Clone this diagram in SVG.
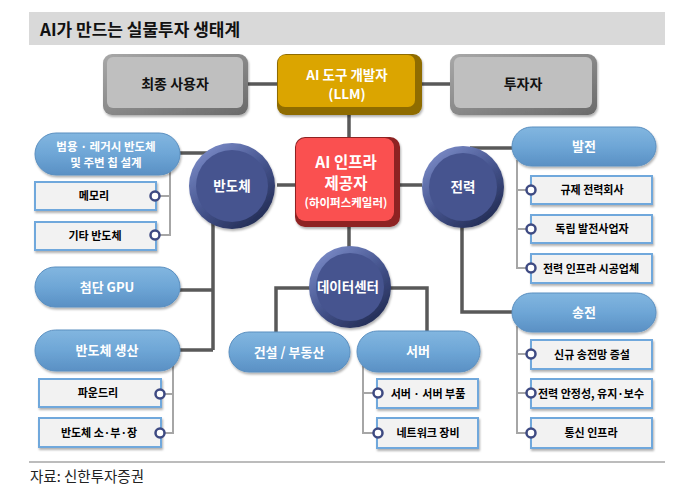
<svg xmlns="http://www.w3.org/2000/svg" width="700" height="491" viewBox="0 0 700 491">
<style>
text{font-family:"Noto Sans CJK KR","Noto Sans",sans-serif;text-anchor:middle}
.conn{fill:none;stroke:#595959;stroke-width:3.5}
.br{fill:none;stroke:#a6a6a6;stroke-width:2}
.pill{fill:url(#pillG);stroke:#5a8fc0;stroke-width:1}
.box{fill:#f2f2f2;stroke:#6fa8dc;stroke-width:2}
.mk{fill:#fff;stroke:#3e4a82;stroke-width:2.5}
.wt{fill:#fff;font-weight:700}
.bt{fill:#000;font-weight:700;font-size:11px}
.pt{fill:#fff;font-weight:700;font-size:13px}
.ct{fill:#fff;font-weight:700;font-size:13.5px}
</style>
<defs>
<linearGradient id="pillG" x1="0" y1="0" x2="0" y2="1">
<stop offset="0" stop-color="#82b6e0"/>
<stop offset="0.5" stop-color="#6ea6d6"/>
<stop offset="1" stop-color="#5a90c4"/>
</linearGradient>
<linearGradient id="circG" x1="0.2" y1="0.1" x2="0.8" y2="0.9">
<stop offset="0" stop-color="#7484c0"/>
<stop offset="0.5" stop-color="#46558f"/>
<stop offset="1" stop-color="#252f58"/>
</linearGradient>
<linearGradient id="grayG" x1="0" y1="0" x2="1" y2="1">
<stop offset="0" stop-color="#a8a8a8"/>
<stop offset="1" stop-color="#6a6a6a"/>
</linearGradient>
<filter id="sh" x="-10%" y="-10%" width="130%" height="140%">
<feDropShadow dx="1" dy="2" stdDeviation="1.2" flood-color="#000" flood-opacity="0.3"/>
</filter>
</defs>
<rect width="700" height="491" fill="#fff"/>
<rect x="29" y="12" width="636" height="33" fill="#d9d9d9"/>
<text x="40" y="36" style="text-anchor:start;font-size:17px;font-weight:700;fill:#111">AI가 만드는 실물투자 생태계</text>

<g id="connectors">
<path class="conn" d="M248 84H277M422 84H450M349 115V137M349 227V250M277 185H295M400 185H422"/>
<path class="conn" d="M180 153H212M213 215V350M180 290H213M180 350H213"/>
<path class="conn" d="M470 148H512M462 220V312H512"/>
<path class="conn" d="M315 288H276V332M385 288H427V331"/>
<path class="br" d="M170 168V235H156M170 196H156"/>
<path class="br" d="M173 366V433H160M173 394H160"/>
<path class="br" d="M363 366V433H378M363 393H378"/>
<path class="br" d="M517 160V268H531M517 190H531M517 229H531"/>
<path class="br" d="M517 326V433H531M517 354H531M517 393H531"/>
</g>

<g id="end-user">
<rect x="103" y="54" width="145" height="61" rx="9" fill="url(#grayG)" filter="url(#sh)"/>
<rect x="107" y="57" width="136" height="51" rx="6" fill="#bfbfbf"/>
<text x="175" y="89" style="font-size:14px;font-weight:700;fill:#111">최종 사용자</text>
</g>
<g id="llm">
<rect x="277" y="54" width="145" height="61" rx="9" fill="#8f6c00" filter="url(#sh)"/>
<rect x="278" y="55" width="137" height="52" rx="7" fill="#dba500"/>
<text class="wt" x="347" y="80" font-size="13.5">AI 도구 개발자</text>
<text class="wt" x="347" y="99" font-size="13.5">(LLM)</text>
</g>
<g id="investor">
<rect x="450" y="54" width="147" height="61" rx="9" fill="url(#grayG)" filter="url(#sh)"/>
<rect x="454" y="57" width="138" height="51" rx="6" fill="#bfbfbf"/>
<text x="523" y="89" style="font-size:14px;font-weight:700;fill:#111">투자자</text>
</g>
<g id="hyperscaler">
<rect x="295" y="137" width="105" height="90" rx="10" fill="#8e2222" filter="url(#sh)"/>
<rect x="296" y="138" width="98" height="83" rx="9" fill="#fa5050"/>
<text class="wt" x="346" y="168" font-size="15.5">AI 인프라</text>
<text class="wt" x="346" y="189" font-size="15.5">제공자</text>
<text class="wt" x="346" y="207" font-size="11.5">(하이퍼스케일러)</text>
</g>

<g id="semi">
<circle cx="232" cy="186" r="43" fill="url(#circG)" filter="url(#sh)"/>
<circle cx="232" cy="186" r="36" fill="#46548f"/>
<text class="ct" x="232" y="191">반도체</text>
</g>
<g id="power">
<circle cx="463" cy="187" r="41" fill="url(#circG)" filter="url(#sh)"/>
<circle cx="463" cy="187" r="34" fill="#46548f"/>
<text class="ct" x="463" y="192">전력</text>
</g>
<g id="datacenter">
<circle cx="350" cy="287" r="41" fill="url(#circG)" filter="url(#sh)"/>
<circle cx="350" cy="287" r="34" fill="#46548f"/>
<text class="ct" x="348" y="292" font-size="13">데이터센터</text>
</g>

<g id="legacy">
<rect class="pill" x="35" y="133" width="145" height="42" rx="21" filter="url(#sh)"/>
<text class="wt" x="106" y="151" font-size="11.5">범용 · 레거시 반도체</text>
<text class="wt" x="106" y="167" font-size="11.5">및 주변 칩 설계</text>
</g>
<g id="memory"><rect class="box" x="35" y="182" width="121" height="28" filter="url(#sh)"/><text class="bt" x="94" y="200">메모리</text></g>
<g id="other-semi"><rect class="box" x="35" y="222" width="121" height="28" filter="url(#sh)"/><text class="bt" x="95" y="240">기타 반도체</text></g>
<g id="gpu"><rect class="pill" x="35" y="267" width="145" height="40" rx="20" filter="url(#sh)"/><text class="pt" x="107" y="292">첨단 GPU</text></g>
<g id="semi-prod"><rect class="pill" x="35" y="330" width="145" height="41" rx="20.5" filter="url(#sh)"/><text class="pt" x="107" y="355">반도체 생산</text></g>
<g id="foundry"><rect class="box" x="39" y="379" width="122" height="28" filter="url(#sh)"/><text class="bt" x="98" y="397">파운드리</text></g>
<g id="equip"><rect class="box" x="39" y="418" width="122" height="29" filter="url(#sh)"/><text class="bt" x="99" y="437">반도체 소·부·장</text></g>

<g id="construction"><rect class="pill" x="229" y="332" width="121" height="40" rx="20" filter="url(#sh)"/><text class="pt" x="289" y="357">건설 / 부동산</text></g>
<g id="server"><rect class="pill" x="357" y="331" width="123" height="41" rx="20.5" filter="url(#sh)"/><text class="pt" x="418" y="356">서버</text></g>
<g id="server-parts"><rect class="box" x="377" y="379" width="101" height="29" filter="url(#sh)"/><text class="bt" x="428" y="398">서버 · 서버 부품</text></g>
<g id="network"><rect class="box" x="377" y="418" width="101" height="30" filter="url(#sh)"/><text class="bt" x="428" y="437">네트워크 장비</text></g>

<g id="generation"><rect class="pill" x="512" y="127" width="144" height="39" rx="19.5" filter="url(#sh)"/><text class="pt" x="584" y="151">발전</text></g>
<g id="regulated"><rect class="box" x="531" y="176" width="121" height="28" filter="url(#sh)"/><text class="bt" x="592" y="194">규제 전력회사</text></g>
<g id="ipp"><rect class="box" x="531" y="215" width="121" height="28" filter="url(#sh)"/><text class="bt" x="592" y="233">독립 발전사업자</text></g>
<g id="power-infra"><rect class="box" x="531" y="254" width="121" height="29" filter="url(#sh)"/><text class="bt" x="591" y="273">전력 인프라 시공업체</text></g>
<g id="transmission"><rect class="pill" x="512" y="293" width="144" height="39" rx="19.5" filter="url(#sh)"/><text class="pt" x="584" y="317">송전</text></g>
<g id="new-grid"><rect class="box" x="531" y="340" width="121" height="29" filter="url(#sh)"/><text class="bt" x="592" y="359">신규 송전망 증설</text></g>
<g id="stability"><rect class="box" x="531" y="379" width="121" height="29" filter="url(#sh)"/><text class="bt" x="591" y="398" font-size="10.5">전력 안정성, 유지·보수</text></g>
<g id="telecom"><rect class="box" x="531" y="418" width="121" height="30" filter="url(#sh)"/><text class="bt" x="591" y="437">통신 인프라</text></g>

<g id="markers">
<circle class="mk" cx="155" cy="196" r="4.5"/><circle class="mk" cx="155" cy="235" r="4.5"/>
<circle class="mk" cx="160" cy="394" r="4.5"/><circle class="mk" cx="160" cy="433" r="4.5"/>
<circle class="mk" cx="378" cy="393" r="4.5"/><circle class="mk" cx="378" cy="433" r="4.5"/>
<circle class="mk" cx="531" cy="190" r="4.5"/><circle class="mk" cx="531" cy="229" r="4.5"/><circle class="mk" cx="531" cy="268" r="4.5"/>
<circle class="mk" cx="531" cy="354" r="4.5"/><circle class="mk" cx="531" cy="393" r="4.5"/><circle class="mk" cx="531" cy="433" r="4.5"/>
</g>

<line x1="29" y1="462" x2="665" y2="462" stroke="#a6a6a6" stroke-width="1.5"/>
<text x="30" y="482" style="text-anchor:start;font-size:14.5px;fill:#222">자료: 신한투자증권</text>
</svg>
